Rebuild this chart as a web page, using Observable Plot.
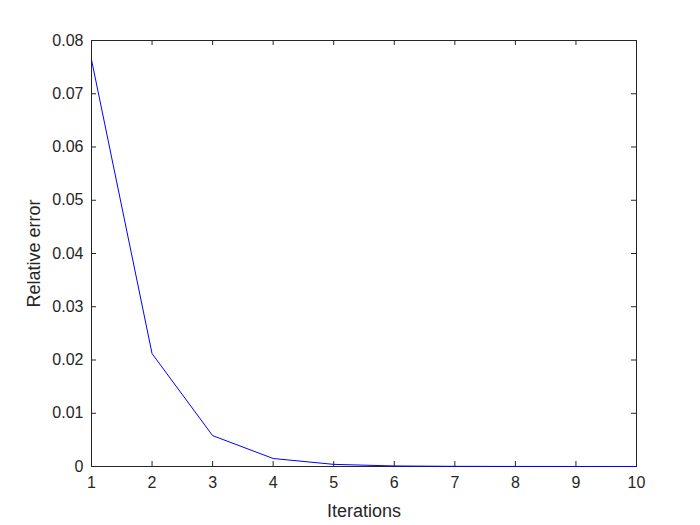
<!DOCTYPE html>
<html>
<head>
<meta charset="utf-8">
<script src="https://cdn.jsdelivr.net/npm/d3@7"></script>
<script src="https://cdn.jsdelivr.net/npm/@observablehq/plot@0.6"></script>
<style>
  html, body { margin: 0; padding: 0; background: #fff; }
  #chart { width: 700px; height: 525px; }
</style>
</head>
<body>
<div id="chart"></div>
<script>
const iterations = [1, 2, 3, 4, 5, 6, 7, 8, 9, 10];
const relativeError = [0.0764, 0.0212, 0.0058, 0.0015, 0.0004, 0.0001, 0.00003, 0.00001, 0.000003, 0.000001];
const xTicks = [1, 2, 3, 4, 5, 6, 7, 8, 9, 10];
const yTicks = [0, 0.01, 0.02, 0.03, 0.04, 0.05, 0.06, 0.07, 0.08];

const data = iterations.map((it, i) => ({it, err: relativeError[i]}));

const W = 700, H = 525, mL = 91, mR = 64, mT = 40, mB = 59;
const pw = W - mL - mR, ph = H - mT - mB;
const axisColor = "#262626";

const chart = Plot.plot({
  width: W, height: H,
  marginLeft: mL, marginRight: mR, marginTop: mT, marginBottom: mB,
  style: {fontFamily: "Liberation Sans, Arial, sans-serif", fontSize: "16px", color: axisColor, background: "#fff"},
  x: {domain: [1, 10]},
  y: {domain: [0, 0.08]},
  marks: [
    Plot.frame({stroke: axisColor, strokeWidth: 1}),
    Plot.tickX(xTicks, {x: d => d, stroke: axisColor, insetTop: ph - 5}),
    Plot.tickX(xTicks, {x: d => d, stroke: axisColor, insetBottom: ph - 5}),
    Plot.tickY(yTicks, {y: d => d, stroke: axisColor, insetRight: pw - 5}),
    Plot.tickY(yTicks, {y: d => d, stroke: axisColor, insetLeft: pw - 5}),
    Plot.axisX({ticks: xTicks, tickSize: 0, tickPadding: 10, fontSize: 16, label: null, tickFormat: d => String(d)}),
    Plot.axisX({ticks: [], tickSize: 0, fontSize: 18, label: "Iterations", labelAnchor: "center", labelArrow: "none", labelOffset: 50}),
    Plot.axisY({ticks: yTicks, tickSize: 0, tickPadding: 8, fontSize: 16, label: null, tickFormat: d => d === 0 ? "0" : d3.format(".2f")(d)}),
    Plot.axisY({ticks: [], tickSize: 0, fontSize: 18, label: "Relative error", labelAnchor: "center", labelArrow: "none", labelOffset: 64}),
    Plot.line(data, {x: "it", y: "err", stroke: "#0000ff", strokeWidth: 1})
  ]
});
document.getElementById("chart").appendChild(chart);
</script>
</body>
</html>
